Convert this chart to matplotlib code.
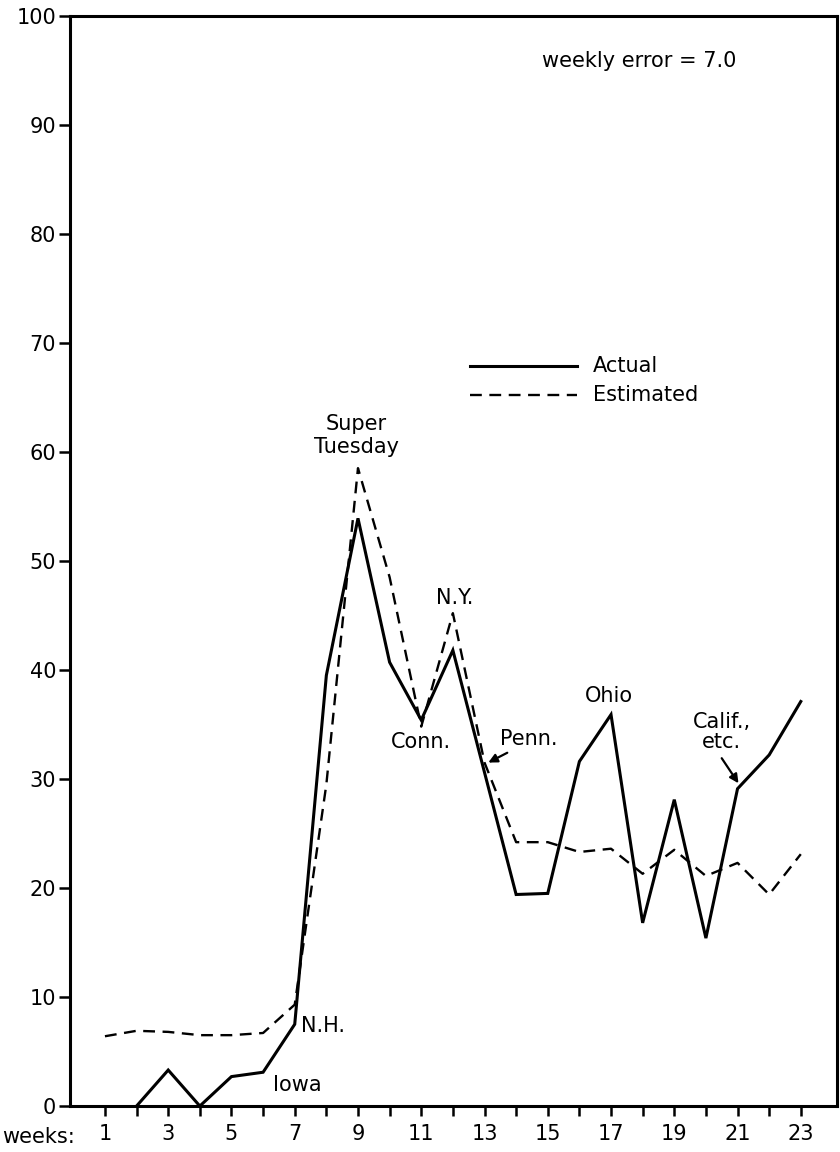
import numpy as np
import matplotlib
matplotlib.use("Agg")
import matplotlib.pyplot as plt

# weekly share (%)
weeks_actual = [2, 3, 4, 5, 6, 7, 8, 9, 10, 11, 12, 13, 14, 15, 16, 17, 18, 19, 20, 21, 22, 23]
actual = [0, 3.3, 0, 2.7, 3.1, 7.5, 39.5, 53.9, 40.7, 35.4, 41.8, 30.6, 19.4, 19.5,
          31.6, 35.9, 16.8, 28.1, 15.4, 29.1, 32.2, 37.1]

weeks_est = list(range(1, 24))
estimated = [6.4, 6.9, 6.8, 6.5, 6.5, 6.7, 9.3, 29.5, 58.5, 48.5, 34.8, 45.2, 31.5,
             24.2, 24.2, 23.3, 23.6, 21.3, 23.5, 21.1, 22.3, 19.4, 23.1]

y_ticks = [0, 10, 20, 30, 40, 50, 60, 70, 80, 90, 100]
x_ticks = list(range(1, 24))
x_labels = [str(w) if w % 2 == 1 else '' for w in x_ticks]

plt.rcParams['font.family'] = ['DejaVu Sans']

fig = plt.figure(figsize=(8.4, 11.52), dpi=100)
ax = fig.add_axes([0.0833, 0.0399, 0.9137, 0.9465])

ax.plot(weeks_actual, actual, color='black', lw=2.2, solid_joinstyle='miter', label='Actual')
ax.plot(weeks_est, estimated, color='black', lw=1.7, dashes=(5, 3.2), label='Estimated')

ax.set_xlim(-0.106, 24.16)
ax.set_ylim(0, 100)

ax.set_yticks(y_ticks)
ax.set_xticks(x_ticks)
ax.set_xticklabels(x_labels)
ax.tick_params(axis='y', direction='out', length=8, width=1.8, labelsize=15, pad=2)
ax.tick_params(axis='x', direction='out', length=7, width=1.8, labelsize=15, pad=6)
for s in ax.spines.values():
    s.set_linewidth(2.2)

# "weeks:" label left of the first tick label
fig.text(0.003, 1 - 1137 / 1152, 'weeks:', ha='left', va='center', fontsize=15)

# legend drawn by hand, like the original
ax.plot([12.54, 15.92], [67.9, 67.9], color='black', lw=2.2)
ax.plot([12.54, 15.92], [65.2, 65.2], color='black', lw=1.7, dashes=(5, 3.2))
ax.text(16.42, 67.9, 'Actual', fontsize=15, va='center', ha='left')
ax.text(16.42, 65.2, 'Estimated', fontsize=15, va='center', ha='left')

ax.text(17.9, 95.8, 'weekly error = 7.0', fontsize=15, ha='center', va='center')

# event labels
ax.text(8.95, 61.5, 'Super\nTuesday', fontsize=15, ha='center', va='center', linespacing=1.2)
ax.text(12.05, 46.6, 'N.Y.', fontsize=15, ha='center', va='center')
ax.text(10.99, 33.4, 'Conn.', fontsize=15, ha='center', va='center')
ax.text(16.93, 37.6, 'Ohio', fontsize=15, ha='center', va='center')
ax.text(7.2, 7.3, 'N.H.', fontsize=15, ha='left', va='center')
ax.text(6.3, 1.9, 'Iowa', fontsize=15, ha='left', va='center')
ax.text(13.5, 33.7, 'Penn.', fontsize=15, ha='left', va='center')
ax.annotate('', xy=(13.12, 31.5), xytext=(13.72, 32.4),
            arrowprops=dict(arrowstyle='-|>', color='black', lw=1.6, shrinkA=0, shrinkB=0,
                            mutation_scale=13))
ax.text(20.5, 34.3, 'Calif.,\netc.', fontsize=15, ha='center', va='center', linespacing=1.0)
ax.annotate('', xy=(21.03, 29.6), xytext=(20.5, 31.9),
            arrowprops=dict(arrowstyle='-|>', color='black', lw=1.6, shrinkA=0, shrinkB=0,
                            mutation_scale=13))

fig.savefig('out.png', dpi=100)
